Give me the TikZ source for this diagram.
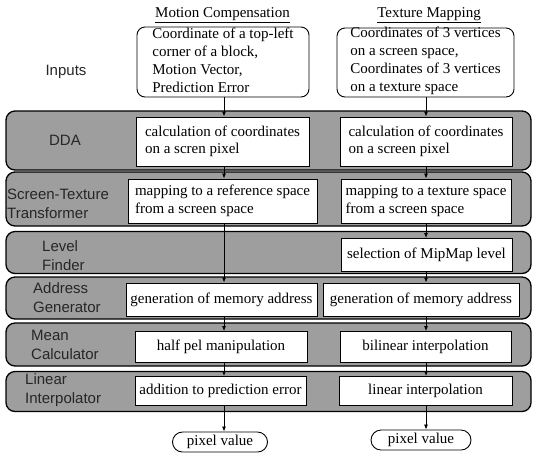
\documentclass[tikz,border=0pt]{standalone}
\usepackage{fontspec}
\setmainfont{Liberation Serif}
\setsansfont{Liberation Sans}
\usetikzlibrary{arrows.meta}
\begin{document}
\begin{tikzpicture}[x=1pt,y=-1pt,
  txt/.style={font=\fontsize{15}{17.5}\selectfont},
  band/.style={draw=black, line width=1.3pt, rounded corners=9pt, fill=black!38, minimum width=525pt, inner sep=0pt},
  wbox/.style={draw=black, line width=0.9pt, fill=white, inner sep=0pt, align=left, txt},
  inbox/.style={draw=black, line width=0.9pt, fill=white, rounded corners=8pt, inner sep=0pt},
  intext/.style={align=left, inner sep=0pt, font=\fontsize{15}{18}\selectfont},
  pill/.style={draw=black, line width=0.9pt, fill=white, rounded corners=10pt, inner sep=0pt, minimum height=20pt, minimum width=95pt, txt},
  lbl/.style={font=\sffamily\fontsize{15}{19}\selectfont, text=black!85, inner sep=0pt},
  arr/.style={line width=0.8pt, -{Latex[length=5pt,width=4pt]}}
]
\useasboundingbox (0,0) rectangle (534,459);
\coordinate (cmc) at (224,0);
\coordinate (ctm) at (426,0);

% titles
\node[txt] (t1) at (222.5,15) {\underline{Motion Compensation}};
\node[txt] (t2) at (429,15) {\underline{Texture Mapping}};
\node[lbl] (inp) at (66,72) {Inputs};

% input boxes
\node[inbox, minimum width=172pt, minimum height=70pt] (mcin) at (223,62) {};
\node[intext] (mcint) at ([yshift=2pt]mcin.center)
  {Coordinate of a top-left\\corner of a block,\\Motion Vector,\\Prediction Error};
\node[inbox, minimum width=177pt, minimum height=69pt] (tmin) at (425.5,62.5) {};
\node[intext] (tmint) at ([yshift=2pt]tmin.center)
  {Coordinates of 3 vertices\\on a screen space,\\Coordinates of 3 vertices\\on a texture space};

% bands
\node[band, minimum height=59pt] (bdda) at (268.5,140.5) {};
\node[band, minimum height=54pt] (bst) at (268.5,199) {};
\node[band, minimum height=42pt] (blf) at (268.5,252.5) {};
\node[band, minimum height=42pt] (bag) at (268.5,298) {};
\node[band, minimum height=43pt] (bmc) at (268.5,344.5) {};
\node[band, minimum height=40pt] (bli) at (268.5,391.5) {};

% band labels
\node[lbl] (ldda) at (65,140) {DDA};
\node[lbl, align=left, anchor=west] (lst) at (7,204) {Screen-Texture\\Transformer};
\node[lbl, align=left, anchor=west] (llf) at (42,256) {Level\\Finder};
\node[lbl, align=left, anchor=west] (lag) at (33,298) {Address\\Generator};
\node[lbl, align=left, anchor=west] (lmc) at (31,345) {Mean\\Calculator};
\node[lbl, align=left, anchor=west] (lli) at (25,390) {Linear\\Interpolator};

% white boxes
\node[wbox, minimum width=173pt, minimum height=49pt] (dda1) at (222.5,141.5)
  {calculation of coordinates\\on a scren pixel};
\node[wbox, minimum width=172pt, minimum height=49pt] (dda2) at (426,141.5)
  {calculation of coordinates\\on a screen pixel};
\node[wbox, minimum width=189pt, minimum height=44pt] (st1) at (222.5,201)
  {mapping to a reference space\\from a screen space};
\node[wbox, minimum width=170pt, minimum height=44pt] (st2) at (426,201)
  {mapping to a texture space\\from a screen space};
\node[wbox, minimum width=171pt, minimum height=33pt] (lf2) at (426.5,255)
  {selection of MipMap level};
\node[wbox, minimum width=191pt, minimum height=33pt] (ag1) at (221.5,299.5)
  {generation of memory address};
\node[wbox, minimum width=196pt, minimum height=33pt] (ag2) at (421,299.5)
  {generation of memory address};
\node[wbox, minimum width=172pt, minimum height=31pt] (mc1) at (221,347)
  {half pel manipulation};
\node[wbox, minimum width=171pt, minimum height=31pt] (mc2) at (425.5,347)
  {bilinear interpolation};
\node[wbox, minimum width=171pt, minimum height=29pt] (li1) at (220.5,391)
  {addition to prediction error};
\node[wbox, minimum width=173pt, minimum height=29pt] (li2) at (425.5,391)
  {linear interpolation};

% outputs
\node[pill] (pv1) at (220,442) {pixel value};
\node[pill, minimum width=100pt] (pv2) at (421,440) {pixel value};

% arrows MC
\draw[arr] (mcin.south -| cmc) -- (dda1.north -| cmc);
\draw[arr] (dda1.south -| cmc) -- (st1.north -| cmc);
\draw[arr] (st1.south -| cmc) -- (ag1.north -| cmc);
\draw[arr] (ag1.south -| cmc) -- (mc1.north -| cmc);
\draw[arr] (mc1.south -| cmc) -- (li1.north -| cmc);
\draw[arr] (li1.south -| cmc) -- (pv1.north -| cmc);
% arrows TM
\draw[arr] (tmin.south -| ctm) -- (dda2.north -| ctm);
\draw[arr] (dda2.south -| ctm) -- (st2.north -| ctm);
\draw[arr] (st2.south -| ctm) -- (lf2.north -| ctm);
\draw[arr] (lf2.south -| ctm) -- (ag2.north -| ctm);
\draw[arr] (ag2.south -| ctm) -- (mc2.north -| ctm);
\draw[arr] (mc2.south -| ctm) -- (li2.north -| ctm);
\draw[arr] (li2.south -| ctm) -- (pv2.north -| ctm);
\end{tikzpicture}
\end{document}
